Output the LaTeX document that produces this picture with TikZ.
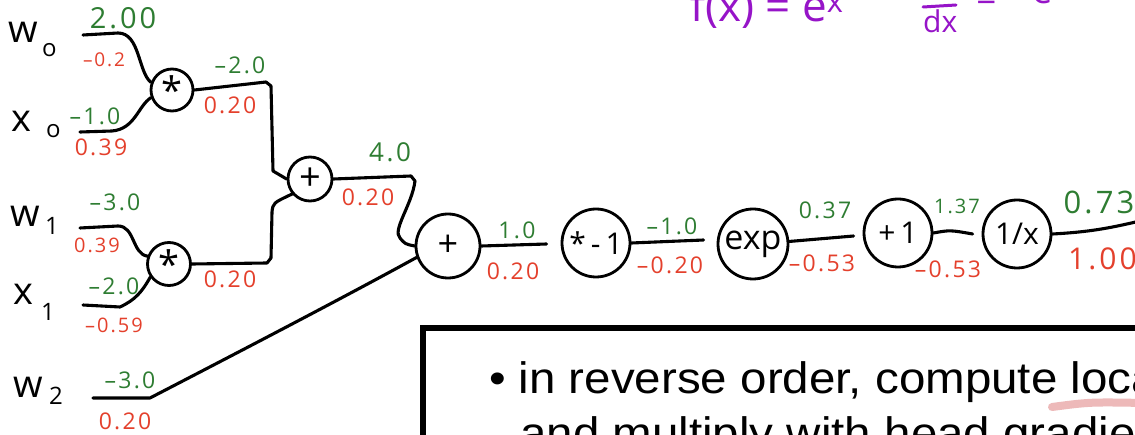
\documentclass[tikz,border=0pt]{standalone}
\usepackage{fontspec}
\setmainfont{Open Sans}
\newfontfamily\hand[LetterSpace=10]{Open Sans}
\newfontfamily\boxfont{Liberation Sans}
\definecolor{vgreen}{RGB}{46,125,50}
\definecolor{gred}{RGB}{228,64,44}
\definecolor{purp}{RGB}{150,20,200}
\definecolor{pinkul}{RGB}{236,178,178}
\begin{document}
\begin{tikzpicture}[x=1pt,y=-1pt,
  gate/.style={circle,draw,line width=2.8pt,inner sep=0pt,font=\fontsize{30}{30}\selectfont},
  wire/.style={line width=3.1pt,line cap=round,line join=round},
  val/.style={text=vgreen,font=\hand\fontsize{23}{23}\selectfont,inner sep=0pt},
  grad/.style={text=gred,font=\hand\fontsize{23}{23}\selectfont,inner sep=0pt},
  var/.style={font=\fontsize{38}{38}\selectfont,inner sep=0pt,anchor=base west},
  subv/.style={font=\fontsize{24}{24}\selectfont,inner sep=0pt,anchor=base west},
  purptext/.style={text=purp,inner sep=0pt,anchor=base west},
  boxtext/.style={anchor=base west,inner sep=0pt,font=\boxfont\fontsize{44}{44}\selectfont,xscale=1.08}]
\useasboundingbox (0,0) rectangle (1135,435);
\clip (0,0) rectangle (1135,435);
\fill[white] (0,0) rectangle (1135,435);

% variable names
\node[var] (w0) at (8,43) {w};
\node[subv] (w0s) at (42,57) {o};
\node[var] (x0) at (11,132) {x};
\node[subv] (x0s) at (46,138) {o};
\node[var] (w1) at (10,227) {w};
\node[subv] (w1s) at (45,235) {1};
\node[var] (x1) at (13,305) {x};
\node[subv] (x1s) at (41,321) {1};
\node[var] (w2) at (13,397) {w};
\node[subv] (w2s) at (49,405) {2};

% gates
\node[gate,minimum size=42pt] (m0) at (172,90) {\raisebox{-0.3em}{\fontsize{38}{38}\selectfont *}};
\node[gate,minimum size=43pt] (m1) at (169,264) {\raisebox{-0.3em}{\fontsize{38}{38}\selectfont *}};
\node[gate,minimum size=44pt,font=\fontsize{38}{38}\selectfont] (a1) at (310,179) {+};
\node[gate,minimum size=64pt,font=\fontsize{36}{36}\selectfont] (a2) at (448,246) {+};
\node[gate,minimum size=68pt] (n1) at (596,243) {*\,-\,1};
\node[gate,minimum size=70pt,font=\fontsize{34}{34}\selectfont] (ex) at (753,244) {exp};
\node[gate,minimum size=68pt] (p1) at (898,233) {+\,1};
\node[gate,minimum size=68pt] (rc) at (1017,234) {1/x};

% free ends
\coordinate (w0e) at (83,35);
\coordinate (x0e) at (80,132);
\coordinate (w1e) at (80,228);
\coordinate (x1e) at (83,305);
\coordinate (w2e) at (93,398);
\coordinate (oute) at (1140,221);

% wires
\draw[wire] (w0e) -- (118,33) .. controls (140,33) and (138,72) .. (m0.160);
\draw[wire] (x0e) -- (112,131) .. controls (135,129) and (138,106) .. (m0.200);
\draw[wire] (m0.east) -- (266,82) -- (271,86) -- (273,171) -- (a1.180);
\draw[wire] (w1e) -- (118,226) .. controls (135,226) and (132,254) .. (m1.160);
\draw[wire] (x1e) -- (120,307) .. controls (135,300) and (142,292) .. (m1.215);
\draw[wire] (m1.east) -- (267,263) -- (271,258) -- (272,212) .. controls (273,203) .. (a1.220);
\draw[wire] (a1.east) -- (411,176) -- (415,181) .. controls (412,205) and (392,230) .. (400,238) .. controls (405,244) .. (a2.180);
\draw[wire] (w2e) -- (150,398) .. controls (200,372) and (330,305) .. (a2.200);
\draw[wire] (a2.east) -- ([xshift=-14pt,yshift=-1pt]n1.west);
\draw[wire] (n1.east) -- ([xshift=-13pt,yshift=4pt]ex.west);
\draw[wire] (ex.4) -- ([xshift=-9pt,yshift=-3pt]p1.west);
\draw[wire] (p1.east) .. controls (950,230) .. ([xshift=-9pt]rc.west);
\draw[wire] (rc.east) .. controls (1090,232) and (1110,228) .. (oute);

% values and gradients
\node[val,font=\hand\fontsize{29}{29}\selectfont] (l1) at (123,18) {2.00};
\node[grad,font=\hand\fontsize{19}{19}\selectfont] (l2) at (104,60) {–0.2};
\node[val] (l3) at (240,65) {–2.0};
\node[grad] (l4) at (230,105) {0.20};
\node[val] (l5) at (95,116) {–1.0};
\node[grad] (l6) at (101,147) {0.39};
\node[val] (l7) at (115,202) {–3.0};
\node[grad,font=\hand\fontsize{20}{20}\selectfont] (l8) at (97,245) {0.39};
\node[val] (l9) at (114,286) {–2.0};
\node[grad,font=\hand\fontsize{20}{20}\selectfont] (l10) at (114,325) {–0.59};
\node[grad] (l11) at (230,279) {0.20};
\node[val] (l12) at (130,380) {–3.0};
\node[grad] (l13) at (125,421) {0.20};
\node[val,font=\hand\fontsize{26}{26}\selectfont] (l14) at (390,152) {4.0};
\node[grad] (l15) at (368,197) {0.20};
\node[val] (l16) at (517,230) {1.0};
\node[grad] (l17) at (513,271) {0.20};
\node[val] (l18) at (672,226) {–1.0};
\node[grad] (l19) at (670,265) {–0.20};
\node[val] (l20) at (825,210) {0.37};
\node[grad] (l21) at (822,263) {–0.53};
\node[val,font=\hand\fontsize{20}{20}\selectfont] (l22) at (957,206) {1.37};
\node[grad] (l23) at (948,269) {–0.53};
\node[val,font=\hand\fontsize{31}{31}\selectfont] (l24) at (1099,202) {0.73};
\node[grad,font=\hand\fontsize{30}{30}\selectfont,anchor=west] (l25) at (1068,259) {1.00};

% purple handwriting (cut at top)
\node[purptext,font=\fontsize{44}{44}\selectfont] (fx) at (690,22) {f(x) = e\textsuperscript{x}};
\node[purptext,font=\fontsize{30}{30}\selectfont] (dfn) at (923,-4) {df};
\draw[purp,line width=3pt,line cap=round] (923,7) -- (956,5);
\node[purptext,font=\fontsize{30}{30}\selectfont] (dfd) at (923,33) {dx};
\node[purptext,font=\fontsize{36}{36}\selectfont] (eq) at (976,12) {=};
\node[purptext,font=\fontsize{36}{36}\selectfont] (rhs) at (1032,4) {e\textsuperscript{x}};

% text box
\draw[line width=6pt,fill=white] (423,328) rectangle (1170,480);
\draw[pinkul,line width=8pt,line cap=round,opacity=0.9] (1052,407) .. controls (1090,402) .. (1145,403);
\node[boxtext] (t1) at (489,393) {\textbullet\hspace{12pt}in reverse order, compute local gradients};
\node[boxtext] (t2) at (520,448) {and multiply with head gradient};
\end{tikzpicture}
\end{document}
